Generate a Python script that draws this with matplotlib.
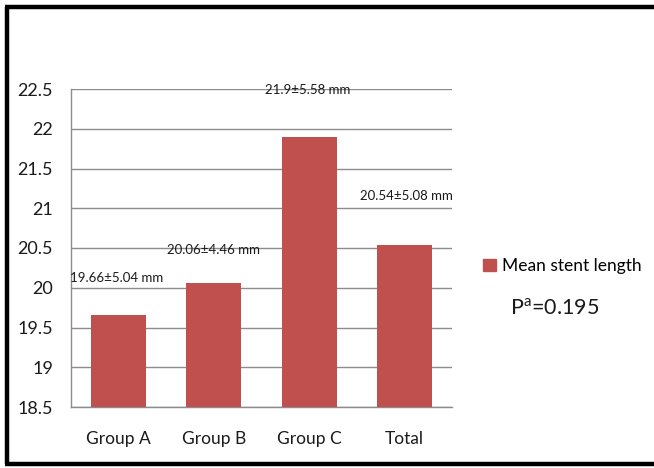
import matplotlib
matplotlib.use("Agg")
import matplotlib.pyplot as plt
from matplotlib.lines import Line2D
from matplotlib.patches import Patch
import numpy as np

categories = ["Group A", "Group B", "Group C", "Total"]
values = [19.66, 20.06, 21.9, 20.54]
labels = ["19.66±5.04 mm", "20.06±4.46 mm", "21.9±5.58 mm", "20.54±5.08 mm"]
yticks = [18.5, 19, 19.5, 20, 20.5, 21, 21.5, 22, 22.5]
series_name = "Mean stent length"
p_text = "P$^{\\mathrm{a}}$=0.195"

FONT = ["Lato", "DejaVu Sans"]
plt.rcParams['font.family'] = FONT
plt.rcParams['mathtext.fontset'] = 'custom'
plt.rcParams['mathtext.rm'] = 'Lato'
color = "#C0504D"
grid = "#8C8C8C"
txt = "#1a1a1a"

fig = plt.figure(figsize=(6.54, 4.68), dpi=100)
ax = fig.add_axes([71/654, 1-407/468, (452-71)/654, (407-89)/468])

x = np.arange(len(categories))
bars = ax.bar(x, values, width=0.58, color=color, zorder=3, bottom=0)
ax.set_ylim(18.5, 22.5)
ax.set_xlim(-0.5, len(categories)-0.5)
ax.set_yticks(yticks)
ax.set_yticklabels([f"{v:g}" for v in yticks], fontsize=13)
ax.set_xticks(x)
ax.set_xticklabels(categories, fontsize=12.5)
ax.tick_params(axis='x', length=0, pad=17, colors=txt)
ax.tick_params(axis='y', length=0, pad=13, colors=txt)
ax.grid(axis='y', color=grid, linewidth=1, zorder=0)
for s in ["top", "right"]:
    ax.spines[s].set_visible(False)
for s in ["left", "bottom"]:
    ax.spines[s].set_color(grid)
    ax.spines[s].set_linewidth(1)

# data labels (manual Excel placement: pixel offsets above bar tops)
offsets = [(-2, 37), (0, 33), (-1, 47), (2, 49)]
for xi, v, lab, off in zip(x, values, labels, offsets):
    ax.annotate(lab, (xi, v), xytext=off, textcoords='offset pixels',
                ha='center', va='center', fontsize=9.5, color=txt,
                annotation_clip=False)

# legend
handle = Patch(facecolor=color, edgecolor=color)
fig.legend([handle], [series_name], loc='center left',
           bbox_to_anchor=(483/654, 1-266/468), frameon=False,
           borderpad=0, borderaxespad=0,
           fontsize=12.5, handlelength=0.75, handleheight=0.75, handletextpad=0.35)
fig.text(555/654, 1-308/468, p_text, ha='center', va='center', fontsize=15.5,
         color=txt)

# outer border (left, top, bottom)
lw = 3.2
fig.add_artist(Line2D([6.5/654, 6.5/654], [1-6.5/468, 1-464/468], color='black',
                      linewidth=lw, transform=fig.transFigure, solid_capstyle='butt'))
fig.add_artist(Line2D([5/654, 1], [1-6.5/468, 1-6.5/468], color='black',
                      linewidth=lw, transform=fig.transFigure, solid_capstyle='butt'))
fig.add_artist(Line2D([5/654, 1], [1-464/468, 1-464/468], color='black',
                      linewidth=lw, transform=fig.transFigure, solid_capstyle='butt'))

fig.savefig("out.png", dpi=100)
